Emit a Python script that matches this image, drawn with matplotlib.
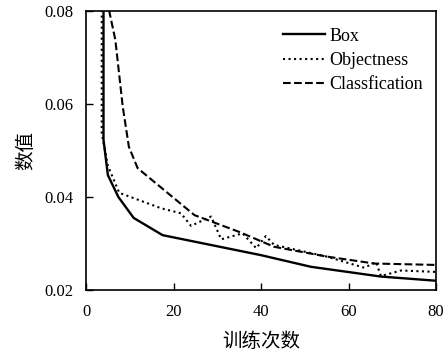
import numpy as np
import matplotlib
matplotlib.use('Agg')
import matplotlib.pyplot as plt

plt.rcParams['font.family'] = ['Liberation Serif', 'Noto Sans CJK SC']

# Box loss
box_x = [4.0, 4.0, 5.0, 7.4, 10.9, 17.5, 40.0, 51.4, 67.4, 80.0]
box_y = [0.090, 0.0523, 0.0447, 0.0400, 0.0355, 0.0318, 0.0275, 0.0250, 0.0229, 0.0220]

# Objectness loss
obj_x = [3.6, 3.6, 5.0, 7.6, 17.1, 21.7, 24.0, 28.6, 30.9, 35.8, 38.9, 41.1, 43.0,
         55.0, 63.6, 66.3, 67.4, 72.0, 80.0]
obj_y = [0.090, 0.0537, 0.0467, 0.0409, 0.0376, 0.0365, 0.0338, 0.0358, 0.0309, 0.0322,
         0.0290, 0.0316, 0.0297, 0.0272, 0.0248, 0.0260, 0.0230, 0.0242, 0.0239]

# Classfication loss
cls_x = [4.6, 5.3, 6.7, 8.4, 9.8, 11.8, 24.8, 35.0, 43.0, 55.0, 65.9, 80.0]
cls_y = [0.090, 0.0800, 0.0738, 0.0594, 0.0508, 0.0462, 0.0361, 0.0325, 0.0293, 0.0272, 0.0257, 0.0254]

fig = plt.figure(figsize=(4.47, 3.52), dpi=100)
ax = fig.add_axes([0.1924, 0.176, 0.7830, 0.793])

ax.plot(box_x, box_y, 'k-', lw=1.7, label='Box')
ax.plot(obj_x, obj_y, 'k:', lw=1.5, label='Objectness')
ax.plot(cls_x, cls_y, 'k--', lw=1.5, label='Classfication')

ax.set_xlim(0, 80)
ax.set_ylim(0.02, 0.08)
ax.set_xticks([0, 20, 40, 60, 80])
ax.set_yticks([0.02, 0.04, 0.06, 0.08])
ax.set_yticklabels(['0.02', '0.04', '0.06', '0.08'])
ax.tick_params(direction='in', length=5, width=1, labelsize=12)
ax.tick_params(axis='x', pad=10)
ax.tick_params(axis='y', pad=9)
for s in ax.spines.values():
    s.set_linewidth(1.2)

ax.set_xlabel('训练次数', fontsize=14, family=['Noto Sans CJK SC'], labelpad=8)
ax.set_ylabel('数值', fontsize=14, family=['Noto Sans CJK SC'], labelpad=6)

ax.legend(loc='upper right', frameon=False, fontsize=13, handlelength=2.3,
          handletextpad=0.25, labelspacing=0.4, borderpad=0, borderaxespad=0,
          bbox_to_anchor=(0.963, 0.94))

fig.savefig('out.png', dpi=100)
